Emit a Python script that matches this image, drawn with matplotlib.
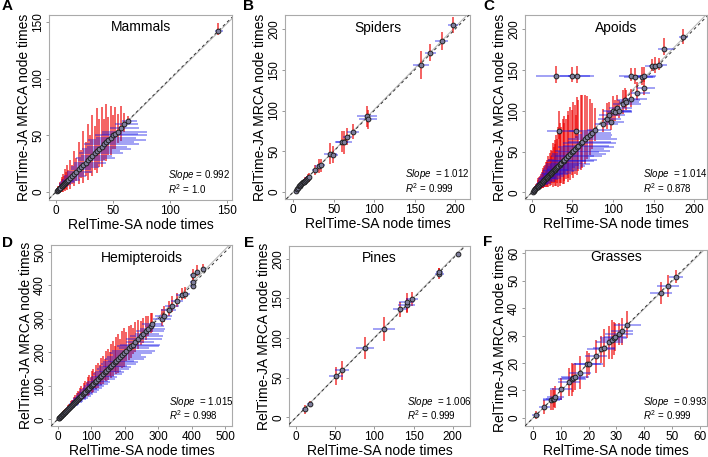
import matplotlib
matplotlib.use('Agg')
import matplotlib.pyplot as plt

plt.rcParams['font.family'] = ['Liberation Sans', 'DejaVu Sans']
plt.rcParams['mathtext.fontset'] = 'custom'
plt.rcParams['mathtext.rm'] = 'Liberation Sans'
plt.rcParams['mathtext.it'] = 'Liberation Sans:italic'

# ---- data ----
# *_up / *_dn are the upper/lower (JA) and right/left (SA) interval extents
# A: Mammals
A_sa = [1, 1.5, 2, 3, 3.5, 4, 5, 5.5, 6, 7, 8, 9, 10, 11, 12, 14, 16, 18, 20, 22, 24, 26, 28, 30,
        32, 34, 36, 38, 40, 42, 44, 46, 48, 50, 52, 54, 57, 60, 63, 142]
A_ja = [1, 1.5, 2, 3, 3.5, 4, 5, 5.5, 6, 7, 8, 9, 10, 11, 12, 14, 16, 18, 20, 22, 24, 26, 28, 30,
        32, 34, 36, 38, 40, 42, 44, 46, 48, 50, 51, 53, 56, 60, 63, 142]
A_sa_up = [0.5, 1, 2, 2.5, 2, 4, 3, 5, 4, 6, 5, 8, 6, 10, 8, 12, 9, 14, 11, 16, 13, 18, 15, 22,
           17, 25, 20, 28, 22, 31, 24, 33, 22, 30, 20, 26, 16, 12, 8, 4]
A_sa_dn = [0.3, 0.6, 1.2, 1.5, 1.2, 2.5, 2, 3, 2.5, 4, 3, 5, 4, 6, 5, 7, 6, 8, 7, 9, 8, 10, 9, 12,
           10, 14, 12, 15, 13, 17, 14, 18, 13, 16, 12, 14, 10, 8, 5, 3]
A_ja_up = [0.5, 1.5, 3, 2, 5, 4, 8, 6, 10, 7, 12, 9, 14, 8, 16, 10, 20, 12, 24, 15, 30, 18, 32, 20,
           36, 24, 38, 26, 35, 22, 34, 20, 28, 18, 24, 16, 20, 10, 4, 7]
A_ja_dn = [0.3, 1, 2, 1.5, 3, 3, 5, 4, 6, 5, 7, 6, 8, 6, 9, 7, 11, 8, 13, 10, 16, 12, 17, 13,
           18, 15, 19, 16, 18, 14, 17, 13, 15, 12, 13, 10, 11, 7, 3, 4]

# B: Spiders
B_sa = [3, 5, 6, 7, 8, 9, 10, 11, 12, 13, 14, 15, 16, 17, 18, 19, 27, 32, 34, 46, 49, 60, 63, 67,
        74, 91, 92, 158, 169, 183, 197]
B_ja = [2, 4, 5, 7, 8, 9, 10, 11, 12, 12, 13, 14, 15, 16, 17, 18, 27, 32, 33, 47, 46, 62, 61, 68,
        74, 93, 89, 156, 171, 185, 205]
B_sa_err = [1, 1, 1.5, 1.5, 2, 2, 2, 2, 2.5, 2.5, 3, 3, 3, 3, 3.5, 3.5, 4, 5, 5, 8, 6, 8, 10, 6,
            7, 12, 11, 10, 7, 8, 6]
B_ja_err = [1, 1.5, 1.5, 2, 2, 2.5, 3, 3, 3, 3, 3, 4, 4, 4, 5, 5, 6, 8, 8, 13, 10, 13, 14, 10,
            9, 13, 12, 17, 10, 11, 10]

# C: Apoids
C_sa = [1, 2, 3, 4, 5, 6, 7, 8, 9, 10, 11, 12, 13, 14, 15, 16, 17, 18, 19, 20, 21, 22, 23, 24,
        25, 26, 27, 28, 29, 30, 31, 32, 34, 35, 36, 38, 39, 40, 42, 44, 45, 47, 49, 51, 53, 55,
        57, 60, 62, 65, 68, 71, 74, 78,
        33, 54, 30, 50, 56, 88, 92, 95, 97, 100, 103, 105, 108, 112, 115, 116, 122, 130, 138,
        122, 127, 136, 138, 148, 152, 157, 163, 186]
C_ja = [1, 2, 3, 4, 5, 6, 7, 8, 9, 10, 11, 12, 13, 14, 15, 16, 17, 18, 19, 20, 21, 22, 23, 24,
        25, 26, 27, 28, 29, 30, 31, 32, 34, 35, 36, 38, 39, 40, 42, 44, 45, 47, 49, 51, 53, 55,
        57, 60, 62, 65, 68, 70, 73, 77,
        75, 75, 143, 143, 143, 84, 90, 95, 86, 100, 98, 104, 100, 108, 113, 111, 114, 122, 128,
        143, 141, 141, 143, 155, 155, 156, 176, 190]
C_sa_up = [1, 2, 2, 4, 3, 6, 4, 8, 6, 10, 7, 12, 8, 14, 10, 16, 11, 18, 12, 20, 14, 22, 15, 24,
           17, 26, 18, 28, 20, 30, 22, 33, 24, 36, 26, 38, 28, 40, 30, 42, 32, 44, 34, 45, 36, 46,
           38, 44, 36, 40, 30, 28, 24, 20,
           24, 20, 25, 22, 20, 18, 18, 20, 16, 22, 20, 18, 16, 22, 18, 16, 20, 16, 14,
           18, 22, 16, 15, 10, 10, 10, 12, 6]
C_sa_dn = [0.5, 1, 1, 2, 2, 3, 2, 4, 3, 5, 4, 6, 4, 7, 5, 8, 6, 9, 6, 10, 7, 11, 8, 12,
           9, 13, 9, 14, 10, 15, 11, 16, 12, 18, 13, 19, 14, 20, 15, 21, 16, 22, 17, 22, 18, 23,
           19, 22, 18, 20, 15, 14, 12, 10,
           15, 8, 25, 15, 12, 10, 10, 12, 8, 12, 10, 10, 8, 12, 10, 8, 10, 8, 8,
           15, 14, 12, 10, 8, 8, 6, 8, 4]
C_ja_up = [1, 2, 3, 4, 5, 6, 8, 9, 10, 10, 12, 13, 14, 16, 17, 18, 20, 22, 18, 24, 20, 26, 22, 28,
           26, 34, 28, 36, 30, 40, 34, 48, 40, 50, 44, 52, 46, 54, 48, 56, 50, 58, 52, 60, 54, 62,
           56, 60, 58, 54, 50, 44, 36, 26,
           25, 20, 12, 11, 12, 18, 20, 16, 15, 18, 15, 15, 13, 18, 15, 15, 13, 13, 13,
           9, 11, 13, 11, 9, 11, 9, 13, 11]
C_ja_dn = [0.5, 1, 2, 2, 3, 3, 4, 5, 6, 6, 7, 7, 8, 9, 9, 10, 11, 12, 10, 13, 11, 14, 12, 15,
           14, 19, 15, 20, 16, 22, 19, 26, 22, 27, 24, 28, 25, 30, 26, 31, 27, 32, 28, 33, 30, 34,
           31, 33, 32, 30, 27, 24, 20, 14,
           9, 8, 9, 8, 9, 10, 12, 10, 10, 12, 10, 10, 9, 12, 10, 10, 9, 9, 9,
           6, 8, 9, 8, 6, 8, 6, 8, 8]

# D: Hemipteroids
D_sa = [3, 5, 7, 9, 11, 13, 15, 17, 19, 21, 23, 25, 28, 30, 33, 36, 39, 42, 45, 48, 51, 54, 57, 60,
        63, 66, 70, 74, 78, 82, 86, 90, 94, 98, 102, 106, 110, 115, 120, 125, 130, 135, 140, 145,
        150, 155, 160, 165, 170, 175, 180, 186, 192, 198, 205, 212, 218, 225, 232, 240, 248, 255,
        262, 270, 278,
        281, 311, 316, 331, 341, 355, 370, 380, 403, 403, 403, 417, 433]
D_ja = [3, 5, 7, 9, 11, 13, 15, 17, 19, 21, 23, 25, 28, 30, 33, 36, 39, 42, 45, 48, 51, 54, 57, 60,
        63, 66, 70, 74, 78, 82, 86, 90, 94, 98, 102, 106, 110, 115, 120, 125, 130, 135, 140, 145,
        150, 155, 160, 165, 170, 175, 180, 186, 192, 198, 205, 212, 218, 222, 232, 240, 248, 255,
        262, 270, 278,
        283, 298, 308, 325, 339, 352, 371, 374, 399, 410, 430, 439, 449]
D_sa_up = [1, 2, 3, 4, 3, 5, 6, 5, 8, 9, 7, 10, 12, 9, 14, 15, 11, 18, 19, 14, 21, 22, 16, 25,
           26, 19, 29, 31, 23, 34, 36, 27, 39, 41, 30, 45, 46, 34, 50, 52, 38, 57, 59, 43, 63, 65,
           47, 69, 71, 52, 76, 78, 56, 83, 86, 60, 84, 80, 56, 70, 65, 46, 55, 50, 38,
           30, 28, 25, 22, 20, 18, 16, 14, 8, 8, 8, 8, 6]
D_sa_dn = [0.5, 1, 2, 2, 2, 3, 3, 3, 4, 5, 4, 5, 6, 5, 7, 8, 6, 9, 10, 7, 11, 11, 8, 13,
           13, 10, 15, 16, 12, 17, 18, 14, 20, 21, 15, 23, 23, 17, 25, 26, 19, 29, 30, 22, 32, 33,
           24, 35, 36, 26, 38, 39, 28, 42, 43, 30, 42, 40, 28, 35, 33, 23, 28, 25, 19,
           30, 28, 25, 22, 20, 18, 16, 14, 8, 8, 8, 8, 6]
D_ja_up = [1, 2, 3, 2, 4, 5, 4, 7, 8, 6, 9, 10, 7, 12, 13, 9, 15, 16, 12, 19, 20, 14, 22, 24,
           17, 26, 28, 20, 31, 33, 24, 36, 38, 28, 41, 43, 32, 47, 49, 36, 53, 55, 40, 59, 61, 45,
           66, 68, 50, 72, 74, 55, 72, 74, 55, 66, 64, 50, 58, 55, 45, 48, 45, 38, 40,
           34, 32, 30, 28, 28, 25, 22, 20, 16, 14, 18, 22, 14]
D_ja_dn = [0.5, 1, 2, 1, 2, 3, 2, 4, 4, 3, 5, 6, 4, 7, 7, 5, 8, 9, 7, 10, 11, 8, 12, 13,
           9, 14, 15, 11, 17, 18, 13, 20, 21, 15, 23, 24, 18, 26, 27, 20, 29, 30, 22, 32, 34, 25,
           36, 37, 28, 40, 41, 30, 40, 41, 30, 36, 35, 28, 32, 30, 25, 26, 25, 21, 22,
           22, 20, 18, 18, 18, 16, 14, 14, 10, 10, 10, 12, 8]

# E: Pines
E_sa = [11, 18, 51, 59, 88, 112, 133, 141, 141, 148, 183, 183, 207]
E_ja = [10, 17, 52, 59, 87, 111, 136, 141, 145, 149, 181, 183, 206]
E_sa_err = [4, 4, 9, 9, 11, 14, 9, 11, 10, 8, 6, 5, 2]
E_ja_err = [6, 4, 11, 12, 14, 15, 9, 10, 12, 9, 7, 5, 2]

# F: Grasses
F_sa = [1, 4, 6.5, 7, 7.5, 8, 10, 13, 14, 14.5, 15, 17, 19.5, 20, 22.5, 24.5, 25.5, 27.5, 28.5,
        29, 29.5, 31, 32, 34, 46, 48.5, 51.5]
F_ja = [1, 4, 6.5, 7, 7, 7.5, 10.5, 13, 14, 14.5, 15, 16.5, 19.5, 19.5, 22.5, 25, 25.5, 27.5, 28.5,
        29, 29.5, 30.5, 31.5, 34, 45.5, 48, 51.5]
F_sa_err = [1.5, 2, 3, 3.5, 3, 3, 4, 4, 5, 4, 5, 4, 5, 5, 4, 5, 4, 5, 4, 5, 4, 5, 4, 5, 4, 4, 2.5]
F_ja_err = [1.5, 2.5, 3.5, 4, 3, 4, 4, 5, 6, 5, 5, 6, 5, 4, 6, 5, 7, 6, 7, 6, 5, 4, 5, 5, 4, 4, 2.5]

titles = ['Mammals', 'Spiders', 'Apoids', 'Hemipteroids', 'Pines', 'Grasses']
letters = ['A', 'B', 'C', 'D', 'E', 'F']
slopes = ['0.992', '1.012', '1.014', '1.015', '1.006', '0.993']
r2s = ['1.0', '0.999', '0.878', '0.998', '0.999', '0.999']
ticks = [[0, 50, 100, 150], [0, 50, 100, 150, 200], [0, 50, 100, 150, 200],
         [0, 100, 200, 300, 400, 500], [0, 50, 100, 150, 200], [0, 10, 20, 30, 40, 50, 60]]

W, H = 708, 457
# axes boxes in pixels: left, top, right, bottom
boxes = [(49, 15, 232, 200), (285, 15, 470, 199), (525, 15, 707, 199),
         (51, 245, 232, 426), (289, 246, 470, 426), (525, 250, 707, 426)]
xlims = [(-6, 154), (-10, 218), (-8.6, 216), (-20, 520), (-9, 222), (-3, 62.7)]
ylims = [(-7, 156), (-8.4, 217), (-8.2, 217.6), (-20, 520), (-11, 216), (-3, 61.2)]
letter_pos = [(7, 6), (249, 6), (489, 6), (7, 243), (249, 243), (488, 242)]
title_y = [27, 28, 28, 258, 258, 257]

data = [(A_sa, A_ja, A_sa_dn, A_sa_up, A_ja_dn, A_ja_up),
        (B_sa, B_ja, B_sa_err, B_sa_err, B_ja_err, B_ja_err),
        (C_sa, C_ja, C_sa_dn, C_sa_up, C_ja_dn, C_ja_up),
        (D_sa, D_ja, D_sa_dn, D_sa_up, D_ja_dn, D_ja_up),
        (E_sa, E_ja, E_sa_err, E_sa_err, E_ja_err, E_ja_err),
        (F_sa, F_ja, F_sa_err, F_sa_err, F_ja_err, F_ja_err)]

fig = plt.figure(figsize=(W / 100, H / 100), dpi=100)

for i in range(6):
    l, t, r, b = boxes[i]
    ax = fig.add_axes([l / W, 1 - b / H, (r - l) / W, (b - t) / H])
    sa, ja, sa_dn, sa_up, ja_dn, ja_up = data[i]

    # red: JA intervals (vertical), blue: SA intervals (horizontal)
    ax.vlines(sa, [y - e for y, e in zip(ja, ja_dn)], [y + e for y, e in zip(ja, ja_up)],
              color='#ee0000', alpha=0.72, lw=1.2, zorder=2)
    ax.hlines(ja, [x - e for x, e in zip(sa, sa_dn)], [x + e for x, e in zip(sa, sa_up)],
              color='#1010e6', alpha=0.5, lw=1.1, zorder=3)
    ax.axline((0, 0), slope=float(slopes[i]), color='#bbbbbb', lw=0.8, zorder=1)
    ax.axline((0, 0), slope=1, color='#333333', lw=0.7, ls=(0, (3, 3)), zorder=4)
    ax.scatter(sa, ja, s=12, facecolor='#7e7e9c', edgecolor='#1a1a1a', lw=0.65, zorder=5)

    ax.set_xlim(xlims[i])
    ax.set_ylim(ylims[i])
    ax.set_xticks(ticks[i])
    ax.set_yticks(ticks[i])
    ax.tick_params(length=2.5, width=0.6, color='#888888', labelsize=8.5, pad=1)
    for lab in ax.get_yticklabels():
        lab.set_rotation(90)
        lab.set_va('center')
    for s in ax.spines.values():
        s.set_color('#aaaaaa')
        s.set_linewidth(0.8)
    ax.set_xlabel('RelTime-SA node times', fontsize=10, labelpad=1)
    ax.set_ylabel('RelTime-JA MRCA node times', fontsize=10, labelpad=1)

    ax.text(0.5, (b - title_y[i]) / (b - t), titles[i], transform=ax.transAxes,
            ha='center', va='center', fontsize=10)
    sp = ' = ' if i == 0 else '  = '
    ax.text(0.65, 0.135, r'$\mathit{Slope}$' + sp + slopes[i], transform=ax.transAxes,
            ha='left', va='center', fontsize=7)
    ax.text(0.65, 0.06, r'$\mathit{R}^2$ = ' + r2s[i], transform=ax.transAxes,
            ha='left', va='center', fontsize=7)

    fig.text(letter_pos[i][0] / W, 1 - letter_pos[i][1] / H, letters[i],
             fontsize=11, fontweight='bold', ha='center', va='center')

fig.savefig('out.png', dpi=100)
